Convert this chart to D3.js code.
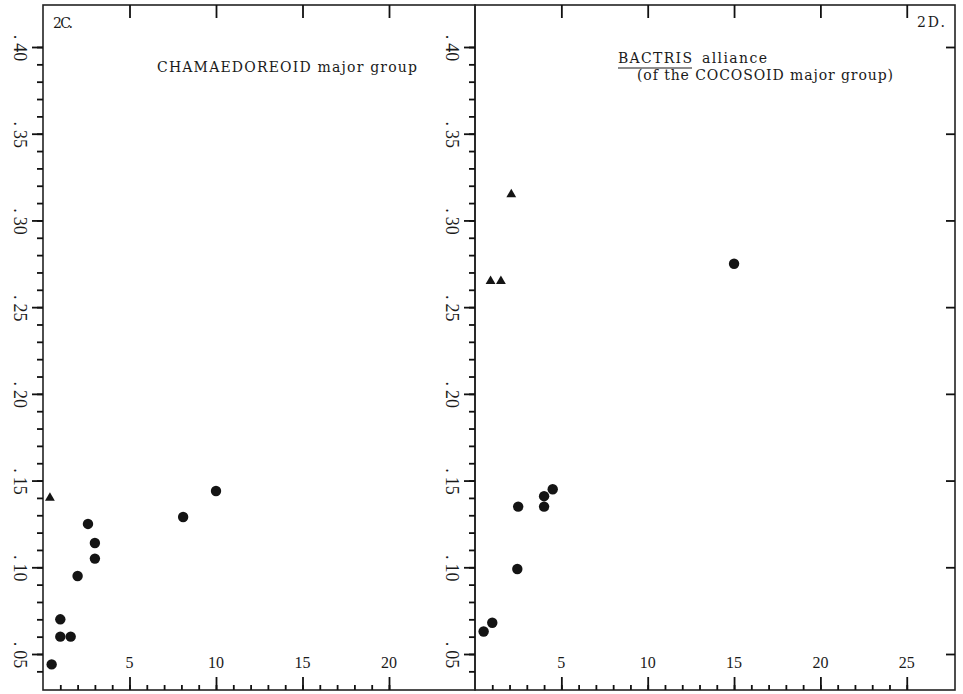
<!DOCTYPE html>
<html>

<head>
    <title>2C / 2D</title>
    <style type="text/css">
    body {
        margin: 0;
        background-color: white;
    }

    text {
        font-family: "Liberation Serif", "DejaVu Serif", serif;
        fill: #1a1a1a;
    }

    .title {
        font-family: "DejaVu Serif", serif;
        font-size: 14px;
    }
    </style>
</head>

<body>
    <script src="https://d3js.org/d3.v7.min.js"></script>
    <script type="text/javascript">
    // 2C. CHAMAEDOREOID major group
    var xC_dots = [0.5, 1.0, 1.0, 1.6, 2.0, 2.6, 3.0, 3.0, 8.1, 10.0];
    var yC_dots = [0.044, 0.070, 0.060, 0.060, 0.095, 0.125, 0.114, 0.105, 0.129, 0.144];
    var xC_tri = [0.4];
    var yC_tri = [0.140];

    // 2D. BACTRIS alliance
    var xD_dots = [0.5, 1.0, 2.45, 2.5, 4.0, 4.0, 4.5, 15.0];
    var yD_dots = [0.063, 0.068, 0.099, 0.135, 0.135, 0.141, 0.145, 0.275];
    var xD_tri = [0.9, 1.5, 2.1];
    var yD_tri = [0.265, 0.265, 0.315];

    // ticks
    var yMajor = [0.05, 0.10, 0.15, 0.20, 0.25, 0.30, 0.35, 0.40];
    var yLabels = ["05", "10", "15", "20", "25", "30", "35", "40"];
    var yMinor = d3.range(4, 41).map(function(d) { return d / 100; });
    var xMajorC = [5, 10, 15, 20];
    var xMajorD = [5, 10, 15, 20, 25];
    var xMinorC = d3.range(1, 21);
    var xMinorD = d3.range(1, 26);

    var W = 963, H = 694;
    var top_ = 5, bottom_ = 690;
    var leftC = 43, mid = 475, rightD = 955;

    var svg = d3.select('body').append('svg')
        .attr('width', W)
        .attr('height', H);

    var y = d3.scaleLinear().domain([0.05, 0.40]).range([654, 47]);
    var xC = d3.scaleLinear().domain([0, 20]).range([leftC, leftC + 20 * 17.3]);
    var xD = d3.scaleLinear().domain([0, 25]).range([mid, mid + 25 * 17.27]);

    var labels = svg.append('g');
    var plot = svg.append('g');

    // panel frames
    [[leftC, mid], [mid, rightD]].forEach(function(p) {
        svg.append('rect')
            .attr('x', p[0]).attr('y', top_)
            .attr('width', p[1] - p[0]).attr('height', bottom_ - top_)
            .attr('fill', 'none')
            .attr('stroke', '#222')
            .attr('stroke-width', 1.6);
    });

    function xLabels(x, vals) {
        labels.selectAll(null).data(vals).enter().append('text')
            .attr('x', function(d) { return x(d); })
            .attr('y', 668)
            .attr('text-anchor', 'middle')
            .attr('font-size', 16)
            .text(function(d) { return d; });
    }

    // rotated labels ". 40"
    function yLabelsAt(x0) {
        var lab = labels.selectAll(null).data(yMajor).enter().append('text')
            .attr('font-size', 18)
            .attr('text-anchor', 'middle')
            .attr('transform', function(d) { return 'translate(' + (x0 - 29) + ',' + (y(d) + 1) + ') rotate(90)'; });
        lab.append('tspan').text('.');
        lab.append('tspan').attr('dx', 4).text(function(d, i) { return yLabels[i]; });
    }

    xLabels(xC, xMajorC);
    xLabels(xD, xMajorD);
    yLabelsAt(leftC);
    yLabelsAt(mid);

    var tri = d3.symbol().type(d3.symbolTriangle).size(42);

    function marks(x, xd, yd, xt, yt) {
        plot.selectAll(null).data(xd).enter().append('circle')
            .attr('cx', function(d) { return x(d); })
            .attr('cy', function(d, i) { return y(yd[i]); })
            .attr('r', 5.2)
            .attr('fill', '#141414');
        plot.selectAll(null).data(xt).enter().append('path')
            .attr('d', tri)
            .attr('transform', function(d, i) { return 'translate(' + x(d) + ',' + y(yt[i]) + ')'; })
            .attr('fill', '#141414');
    }

    marks(xC, xC_dots, yC_dots, xC_tri, yC_tri);
    marks(xD, xD_dots, yD_dots, xD_tri, yD_tri);

    // tick marks go on top of everything, one axis call each
    function axisAt(axis, tx, ty) {
        var g = svg.append('g')
            .attr('transform', 'translate(' + tx + ',' + ty + ')')
            .call(axis.tickSizeOuter(0).tickFormat(''));
        g.select('.domain').remove();
        g.selectAll('.tick line')
            .attr('stroke', '#111')
            .attr('stroke-width', 1.8);
        return g;
    }

    // 2C: bottom (up), top (down), left edge (out)
    axisAt(d3.axisTop(xC).tickValues(xMinorC).tickSize(5), 0, bottom_);
    axisAt(d3.axisTop(xC).tickValues(xMajorC).tickSize(13), 0, bottom_);
    axisAt(d3.axisBottom(xC).tickValues(xMajorC).tickSize(13), 0, top_);
    axisAt(d3.axisLeft(y).tickValues(yMinor).tickSize(6), leftC, 0);
    axisAt(d3.axisLeft(y).tickValues(yMajor).tickSize(11), leftC, 0);

    // 2D: y axis on the shared line pointing left, right edge major only
    axisAt(d3.axisTop(xD).tickValues(xMinorD).tickSize(5), 0, bottom_);
    axisAt(d3.axisTop(xD).tickValues(xMajorD).tickSize(13), 0, bottom_);
    axisAt(d3.axisBottom(xD).tickValues(xMajorD).tickSize(13), 0, top_);
    axisAt(d3.axisLeft(y).tickValues(yMinor).tickSize(6), mid, 0);
    axisAt(d3.axisLeft(y).tickValues(yMajor).tickSize(11), mid, 0);
    axisAt(d3.axisLeft(y).tickValues(yMajor).tickSize(9), rightD, 0);

    // titles
    svg.append('text').attr('class', 'title').attr('x', 53).attr('y', 28)
        .attr('textLength', 20).text('2C.');
    svg.append('text').attr('class', 'title').attr('x', 157).attr('y', 72)
        .attr('textLength', 260).attr('lengthAdjust', 'spacing')
        .text('CHAMAEDOREOID major group');

    svg.append('text').attr('class', 'title').attr('x', 917).attr('y', 27)
        .attr('textLength', 28).text('2D.');
    svg.append('text').attr('class', 'title').attr('x', 618).attr('y', 63)
        .attr('textLength', 74).attr('lengthAdjust', 'spacing').text('BACTRIS');
    svg.append('line').attr('x1', 618).attr('x2', 692).attr('y1', 68).attr('y2', 68)
        .attr('stroke', '#1a1a1a').attr('stroke-width', 1.2);
    svg.append('text').attr('class', 'title').attr('x', 702).attr('y', 63)
        .attr('textLength', 65).attr('lengthAdjust', 'spacing').text('alliance');
    svg.append('text').attr('class', 'title').attr('x', 637).attr('y', 80)
        .attr('textLength', 256).attr('lengthAdjust', 'spacing')
        .text('(of the COCOSOID major group)');
    </script>
</body>

</html>
